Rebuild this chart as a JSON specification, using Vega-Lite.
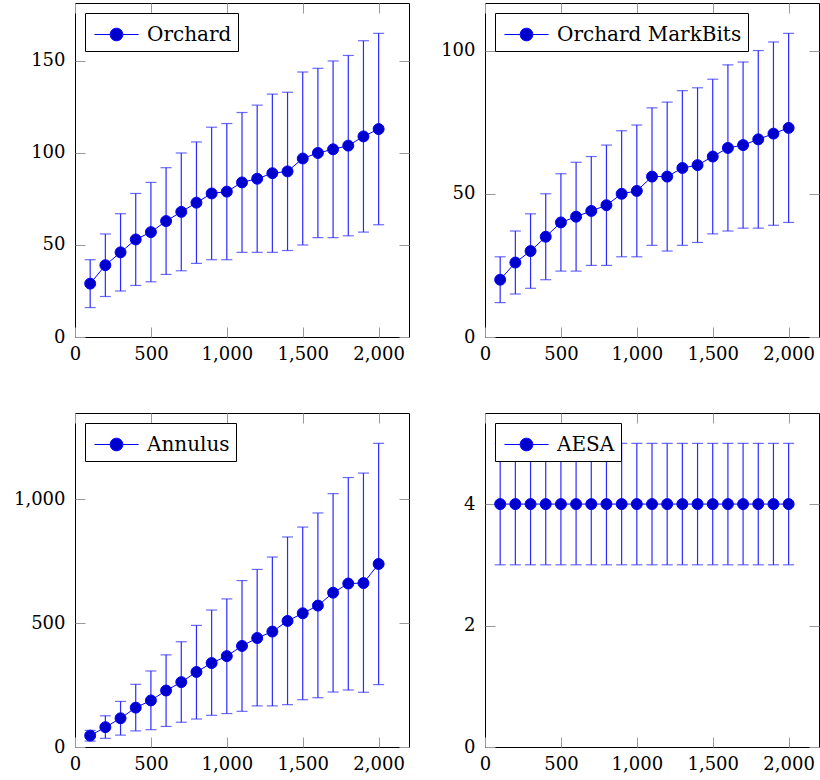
{
  "$schema": "https://vega.github.io/schema/vega-lite/v6.json",
  "datasets": {
    "d": [
      {"s":"Orchard","n":100,"m":29,"lo":16,"hi":42},
      {"s":"Orchard","n":200,"m":39,"lo":22,"hi":56},
      {"s":"Orchard","n":300,"m":46,"lo":25,"hi":67},
      {"s":"Orchard","n":400,"m":53,"lo":28,"hi":78},
      {"s":"Orchard","n":500,"m":57,"lo":30,"hi":84},
      {"s":"Orchard","n":600,"m":63,"lo":34,"hi":92},
      {"s":"Orchard","n":700,"m":68,"lo":36,"hi":100},
      {"s":"Orchard","n":800,"m":73,"lo":40,"hi":106},
      {"s":"Orchard","n":900,"m":78,"lo":42,"hi":114},
      {"s":"Orchard","n":1000,"m":79,"lo":42,"hi":116},
      {"s":"Orchard","n":1100,"m":84,"lo":46,"hi":122},
      {"s":"Orchard","n":1200,"m":86,"lo":46,"hi":126},
      {"s":"Orchard","n":1300,"m":89,"lo":46,"hi":132},
      {"s":"Orchard","n":1400,"m":90,"lo":47,"hi":133},
      {"s":"Orchard","n":1500,"m":97,"lo":50,"hi":144},
      {"s":"Orchard","n":1600,"m":100,"lo":54,"hi":146},
      {"s":"Orchard","n":1700,"m":102,"lo":54,"hi":150},
      {"s":"Orchard","n":1800,"m":104,"lo":55,"hi":153},
      {"s":"Orchard","n":1900,"m":109,"lo":57,"hi":161},
      {"s":"Orchard","n":2000,"m":113,"lo":61,"hi":165},
      {"s":"Orchard MarkBits","n":100,"m":20,"lo":12,"hi":28},
      {"s":"Orchard MarkBits","n":200,"m":26,"lo":15,"hi":37},
      {"s":"Orchard MarkBits","n":300,"m":30,"lo":17,"hi":43},
      {"s":"Orchard MarkBits","n":400,"m":35,"lo":20,"hi":50},
      {"s":"Orchard MarkBits","n":500,"m":40,"lo":23,"hi":57},
      {"s":"Orchard MarkBits","n":600,"m":42,"lo":23,"hi":61},
      {"s":"Orchard MarkBits","n":700,"m":44,"lo":25,"hi":63},
      {"s":"Orchard MarkBits","n":800,"m":46,"lo":25,"hi":67},
      {"s":"Orchard MarkBits","n":900,"m":50,"lo":28,"hi":72},
      {"s":"Orchard MarkBits","n":1000,"m":51,"lo":28,"hi":74},
      {"s":"Orchard MarkBits","n":1100,"m":56,"lo":32,"hi":80},
      {"s":"Orchard MarkBits","n":1200,"m":56,"lo":30,"hi":82},
      {"s":"Orchard MarkBits","n":1300,"m":59,"lo":32,"hi":86},
      {"s":"Orchard MarkBits","n":1400,"m":60,"lo":33,"hi":87},
      {"s":"Orchard MarkBits","n":1500,"m":63,"lo":36,"hi":90},
      {"s":"Orchard MarkBits","n":1600,"m":66,"lo":37,"hi":95},
      {"s":"Orchard MarkBits","n":1700,"m":67,"lo":38,"hi":96},
      {"s":"Orchard MarkBits","n":1800,"m":69,"lo":38,"hi":100},
      {"s":"Orchard MarkBits","n":1900,"m":71,"lo":39,"hi":103},
      {"s":"Orchard MarkBits","n":2000,"m":73,"lo":40,"hi":106},
      {"s":"Annulus","n":100,"m":46,"lo":24,"hi":67},
      {"s":"Annulus","n":200,"m":80,"lo":35,"hi":126},
      {"s":"Annulus","n":300,"m":116,"lo":48,"hi":184},
      {"s":"Annulus","n":400,"m":159,"lo":65,"hi":253},
      {"s":"Annulus","n":500,"m":188,"lo":70,"hi":307},
      {"s":"Annulus","n":600,"m":228,"lo":83,"hi":372},
      {"s":"Annulus","n":700,"m":262,"lo":100,"hi":425},
      {"s":"Annulus","n":800,"m":303,"lo":113,"hi":491},
      {"s":"Annulus","n":900,"m":339,"lo":128,"hi":553},
      {"s":"Annulus","n":1000,"m":367,"lo":135,"hi":598},
      {"s":"Annulus","n":1100,"m":408,"lo":144,"hi":672},
      {"s":"Annulus","n":1200,"m":440,"lo":166,"hi":717},
      {"s":"Annulus","n":1300,"m":466,"lo":166,"hi":767},
      {"s":"Annulus","n":1400,"m":509,"lo":171,"hi":848},
      {"s":"Annulus","n":1500,"m":540,"lo":191,"hi":888},
      {"s":"Annulus","n":1600,"m":571,"lo":199,"hi":945},
      {"s":"Annulus","n":1700,"m":623,"lo":222,"hi":1023},
      {"s":"Annulus","n":1800,"m":660,"lo":230,"hi":1088},
      {"s":"Annulus","n":1900,"m":662,"lo":221,"hi":1106},
      {"s":"Annulus","n":2000,"m":739,"lo":252,"hi":1226},
      {"s":"AESA","n":100,"m":4,"lo":3,"hi":5},
      {"s":"AESA","n":200,"m":4,"lo":3,"hi":5},
      {"s":"AESA","n":300,"m":4,"lo":3,"hi":5},
      {"s":"AESA","n":400,"m":4,"lo":3,"hi":5},
      {"s":"AESA","n":500,"m":4,"lo":3,"hi":5},
      {"s":"AESA","n":600,"m":4,"lo":3,"hi":5},
      {"s":"AESA","n":700,"m":4,"lo":3,"hi":5},
      {"s":"AESA","n":800,"m":4,"lo":3,"hi":5},
      {"s":"AESA","n":900,"m":4,"lo":3,"hi":5},
      {"s":"AESA","n":1000,"m":4,"lo":3,"hi":5},
      {"s":"AESA","n":1100,"m":4,"lo":3,"hi":5},
      {"s":"AESA","n":1200,"m":4,"lo":3,"hi":5},
      {"s":"AESA","n":1300,"m":4,"lo":3,"hi":5},
      {"s":"AESA","n":1400,"m":4,"lo":3,"hi":5},
      {"s":"AESA","n":1500,"m":4,"lo":3,"hi":5},
      {"s":"AESA","n":1600,"m":4,"lo":3,"hi":5},
      {"s":"AESA","n":1700,"m":4,"lo":3,"hi":5},
      {"s":"AESA","n":1800,"m":4,"lo":3,"hi":5},
      {"s":"AESA","n":1900,"m":4,"lo":3,"hi":5},
      {"s":"AESA","n":2000,"m":4,"lo":3,"hi":5}
    ]
  },
  "data": {"name": "d"},
  "columns": 2,
  "spacing": 76,
  "bounds": "flush",
  "padding": {"left": 12, "top": 2, "right": 0, "bottom": 0},
  "resolve": {"scale": {"color": "independent"}, "legend": {"color": "independent"}},
  "concat": [
    {
      "width": 334, "height": 334,
      "transform": [{"filter": "datum.s == 'Orchard'"}],
      "layer": [
        {"mark": {"type": "errorbar", "ticks": true, "size": 11, "thickness": 1.2, "color": "#2b2bff"},
         "encoding": {
           "x": {"field": "n", "type": "quantitative", "title": null, "scale": {"domain": [0, 2200], "nice": false}, "axis": {"orient": "bottom", "labelPadding": 18, "values": [0, 500, 1000, 1500, 2000]}},
           "y": {"field": "lo", "type": "quantitative", "title": null, "scale": {"domain": [0, 181.5], "nice": false}, "axis": {"orient": "left", "values": [0, 50, 100, 150]}},
           "y2": {"field": "hi"}}},
        {"mark": {"type": "line", "color": "blue", "strokeWidth": 1},
         "encoding": {
           "x": {"field": "n", "type": "quantitative", "title": null, "scale": {"domain": [0, 2200], "nice": false}, "axis": {"orient": "top", "labels": false, "values": [0, 500, 1000, 1500, 2000]}},
           "y": {"field": "m", "type": "quantitative", "title": null, "scale": {"domain": [0, 181.5], "nice": false}, "axis": {"orient": "right", "labels": false, "values": [0, 50, 100, 150]}}}},
        {"mark": {"type": "point", "filled": true, "size": 120, "opacity": 1, "stroke": "blue", "strokeWidth": 1},
         "encoding": {
           "x": {"field": "n", "type": "quantitative", "scale": {"domain": [0, 2200], "nice": false}, "axis": null},
           "y": {"field": "m", "type": "quantitative", "scale": {"domain": [0, 181.5], "nice": false}, "axis": null},
           "color": {"field": "s", "type": "nominal", "scale": {"range": ["#0000cc"]}, "legend": {"title": null}}}}
      ],
      "resolve": {"axis": {"x": "independent", "y": "independent"}}
    },
    {
      "width": 334, "height": 334,
      "transform": [{"filter": "datum.s == 'Orchard MarkBits'"}],
      "layer": [
        {"mark": {"type": "errorbar", "ticks": true, "size": 11, "thickness": 1.2, "color": "#2b2bff"},
         "encoding": {
           "x": {"field": "n", "type": "quantitative", "title": null, "scale": {"domain": [0, 2200], "nice": false}, "axis": {"orient": "bottom", "labelPadding": 18, "values": [0, 500, 1000, 1500, 2000]}},
           "y": {"field": "lo", "type": "quantitative", "title": null, "scale": {"domain": [0, 116.6], "nice": false}, "axis": {"orient": "left", "values": [0, 50, 100]}},
           "y2": {"field": "hi"}}},
        {"mark": {"type": "line", "color": "blue", "strokeWidth": 1},
         "encoding": {
           "x": {"field": "n", "type": "quantitative", "title": null, "scale": {"domain": [0, 2200], "nice": false}, "axis": {"orient": "top", "labels": false, "values": [0, 500, 1000, 1500, 2000]}},
           "y": {"field": "m", "type": "quantitative", "title": null, "scale": {"domain": [0, 116.6], "nice": false}, "axis": {"orient": "right", "labels": false, "values": [0, 50, 100]}}}},
        {"mark": {"type": "point", "filled": true, "size": 120, "opacity": 1, "stroke": "blue", "strokeWidth": 1},
         "encoding": {
           "x": {"field": "n", "type": "quantitative", "scale": {"domain": [0, 2200], "nice": false}, "axis": null},
           "y": {"field": "m", "type": "quantitative", "scale": {"domain": [0, 116.6], "nice": false}, "axis": null},
           "color": {"field": "s", "type": "nominal", "scale": {"range": ["#0000cc"]}, "legend": {"title": null}}}}
      ],
      "resolve": {"axis": {"x": "independent", "y": "independent"}}
    },
    {
      "width": 334, "height": 334,
      "transform": [{"filter": "datum.s == 'Annulus'"}],
      "layer": [
        {"mark": {"type": "errorbar", "ticks": true, "size": 11, "thickness": 1.2, "color": "#2b2bff"},
         "encoding": {
           "x": {"field": "n", "type": "quantitative", "title": null, "scale": {"domain": [0, 2200], "nice": false}, "axis": {"orient": "bottom", "labelPadding": 18, "values": [0, 500, 1000, 1500, 2000]}},
           "y": {"field": "lo", "type": "quantitative", "title": null, "scale": {"domain": [0, 1348.6], "nice": false}, "axis": {"orient": "left", "values": [0, 500, 1000]}},
           "y2": {"field": "hi"}}},
        {"mark": {"type": "line", "color": "blue", "strokeWidth": 1},
         "encoding": {
           "x": {"field": "n", "type": "quantitative", "title": null, "scale": {"domain": [0, 2200], "nice": false}, "axis": {"orient": "top", "labels": false, "values": [0, 500, 1000, 1500, 2000]}},
           "y": {"field": "m", "type": "quantitative", "title": null, "scale": {"domain": [0, 1348.6], "nice": false}, "axis": {"orient": "right", "labels": false, "values": [0, 500, 1000]}}}},
        {"mark": {"type": "point", "filled": true, "size": 120, "opacity": 1, "stroke": "blue", "strokeWidth": 1},
         "encoding": {
           "x": {"field": "n", "type": "quantitative", "scale": {"domain": [0, 2200], "nice": false}, "axis": null},
           "y": {"field": "m", "type": "quantitative", "scale": {"domain": [0, 1348.6], "nice": false}, "axis": null},
           "color": {"field": "s", "type": "nominal", "scale": {"range": ["#0000cc"]}, "legend": {"title": null}}}}
      ],
      "resolve": {"axis": {"x": "independent", "y": "independent"}}
    },
    {
      "width": 334, "height": 334,
      "transform": [{"filter": "datum.s == 'AESA'"}],
      "layer": [
        {"mark": {"type": "errorbar", "ticks": true, "size": 11, "thickness": 1.2, "color": "#2b2bff"},
         "encoding": {
           "x": {"field": "n", "type": "quantitative", "title": null, "scale": {"domain": [0, 2200], "nice": false}, "axis": {"orient": "bottom", "labelPadding": 18, "values": [0, 500, 1000, 1500, 2000]}},
           "y": {"field": "lo", "type": "quantitative", "title": null, "scale": {"domain": [0, 5.5], "nice": false}, "axis": {"orient": "left", "values": [0, 2, 4]}},
           "y2": {"field": "hi"}}},
        {"mark": {"type": "line", "color": "blue", "strokeWidth": 1},
         "encoding": {
           "x": {"field": "n", "type": "quantitative", "title": null, "scale": {"domain": [0, 2200], "nice": false}, "axis": {"orient": "top", "labels": false, "values": [0, 500, 1000, 1500, 2000]}},
           "y": {"field": "m", "type": "quantitative", "title": null, "scale": {"domain": [0, 5.5], "nice": false}, "axis": {"orient": "right", "labels": false, "values": [0, 2, 4]}}}},
        {"mark": {"type": "point", "filled": true, "size": 120, "opacity": 1, "stroke": "blue", "strokeWidth": 1},
         "encoding": {
           "x": {"field": "n", "type": "quantitative", "scale": {"domain": [0, 2200], "nice": false}, "axis": null},
           "y": {"field": "m", "type": "quantitative", "scale": {"domain": [0, 5.5], "nice": false}, "axis": null},
           "color": {"field": "s", "type": "nominal", "scale": {"range": ["#0000cc"]}, "legend": {"title": null}}}}
      ],
      "resolve": {"axis": {"x": "independent", "y": "independent"}}
    }
  ],
  "config": {
    "font": "DejaVu Serif",
    "view": {"stroke": "black", "strokeWidth": 1},
    "axis": {"domain": false, "grid": false, "ticks": true, "tickColor": "#999999", "tickSize": -10, "tickWidth": 1, "labelFont": "DejaVu Serif", "labelFontSize": 18, "labelColor": "black", "labelPadding": 20, "labelFlush": false, "labelOverlap": false},
    "legend": {"orient": "top-left", "offset": 10, "fillColor": "white", "strokeColor": "black", "padding": 6, "labelFont": "DejaVu Serif", "labelFontSize": 20, "labelColor": "black", "symbolOffset": 10, "labelOffset": 15, "labelLimit": 400, "symbolType": "M-1.47,0H-0.42A0.42,0.42,0,1,1,0.42,0A0.42,0.42,0,1,1,-0.42,0M0.42,0H1.47", "symbolSize": 900, "symbolStrokeWidth": 1, "symbolStrokeColor": "blue", "symbolFillColor": "#0000cc", "zindex": 1}
  }
}
